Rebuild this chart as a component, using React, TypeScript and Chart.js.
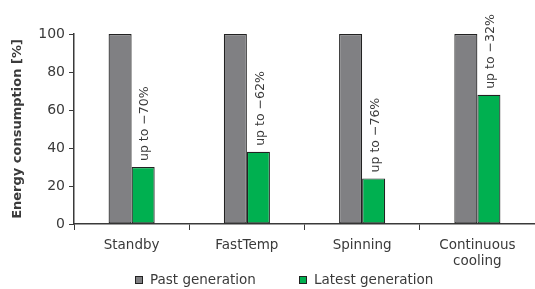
import React, { useEffect, useRef } from "react";
import { Chart, registerables } from "chart.js";

Chart.register(...registerables);

const categories: (string | string[])[] = ["Standby", "FastTemp", "Spinning", ["Continuous", "cooling"]];
const pastGeneration = [100, 100, 100, 100];
const latestGeneration = [30, 38, 24, 68];
const reductionLabels = ["up to \u221270%", "up to \u221262%", "up to \u221276%", "up to \u221232%"];
const seriesNames = ["Past generation", "Latest generation"];
const yTicks = [0, 20, 40, 60, 80, 100];

const FONT = "'DejaVu Sans', sans-serif";
const TEXT = "#3a3a3a";
const GRAY = "#808083";
const GREEN = "#00b050";
const BORDER = "#222222";

const annotationPlugin = {
  id: "reductionLabels",
  afterDatasetsDraw(chart: any) {
    const meta = chart.getDatasetMeta(1);
    const ctx = chart.ctx;
    ctx.save();
    ctx.font = `12.5px ${FONT}`;
    ctx.fillStyle = TEXT;
    ctx.textAlign = "left";
    ctx.textBaseline = "middle";
    meta.data.forEach((bar: any, i: number) => {
      ctx.save();
      ctx.translate(bar.x + 2, bar.y - 6);
      ctx.rotate(-Math.PI / 2);
      ctx.fillText(reductionLabels[i], 0, 0);
      ctx.restore();
    });
    ctx.restore();
  },
};

const legendPlugin = {
  id: "customLegend",
  afterDraw(chart: any) {
    const ctx = chart.ctx;
    const y = 280;
    const colors = [GRAY, GREEN];
    const starts = [135, 299];
    ctx.save();
    ctx.font = `13.5px ${FONT}`;
    ctx.textBaseline = "middle";
    ctx.textAlign = "left";
    seriesNames.forEach((name, i) => {
      const x = starts[i];
      ctx.fillStyle = colors[i];
      ctx.fillRect(x, y - 4, 8, 8);
      ctx.strokeStyle = BORDER;
      ctx.lineWidth = 1;
      ctx.strokeRect(x + 0.5, y - 3.5, 7, 7);
      ctx.fillStyle = TEXT;
      ctx.fillText(name, x + 15, y);
    });
    ctx.restore();
  },
};

export default function App() {
  const ref = useRef<HTMLCanvasElement>(null);
  useEffect(() => {
    if (!ref.current) return;
    const chart = new Chart(ref.current, {
      type: "bar",
      data: {
        labels: categories,
        datasets: [
          {
            label: seriesNames[0],
            data: pastGeneration,
            backgroundColor: GRAY,
            borderColor: BORDER,
            borderWidth: 1.2,
            borderSkipped: false,
            categoryPercentage: 0.4,
            barPercentage: 1,
          },
          {
            label: seriesNames[1],
            data: latestGeneration,
            backgroundColor: GREEN,
            borderColor: BORDER,
            borderWidth: 1.2,
            borderSkipped: false,
            categoryPercentage: 0.4,
            barPercentage: 1,
          },
        ],
      },
      options: {
        animation: false,
        responsive: false,
        maintainAspectRatio: false,
        layout: { padding: { top: 34, right: 0, bottom: 15, left: 0 } },
        plugins: {
          legend: { display: false },
          tooltip: { enabled: false },
        },
        scales: {
          x: {
            grid: {
              display: true,
              drawOnChartArea: false,
              drawTicks: true,
              tickLength: 6,
              color: TEXT,
              offset: true,
            },
            border: { display: true, color: TEXT, width: 1.5 },
            ticks: {
              color: TEXT,
              font: { family: FONT, size: 13.5 },
              padding: 7,
              maxRotation: 0,
              autoSkip: false,
            },
            afterFit: (s: any) => {
              s.height = 50;
            },
          },
          y: {
            min: 0,
            max: 100,
            afterBuildTicks: (s: any) => {
              s.ticks = yTicks.map((v) => ({ value: v }));
            },
            grid: {
              display: true,
              drawOnChartArea: false,
              drawTicks: true,
              tickLength: 5,
              color: TEXT,
            },
            border: { display: true, color: TEXT, width: 1.5 },
            ticks: {
              color: TEXT,
              font: { family: FONT, size: 14 },
              padding: 4,
            },
            title: {
              display: true,
              text: "Energy consumption [%]",
              color: TEXT,
              font: { family: FONT, size: 13, weight: "bold" },
              padding: { top: 10, bottom: 0 },
            },
            afterFit: (s: any) => {
              s.width = 74;
            },
          },
        },
      },
      plugins: [annotationPlugin, legendPlugin],
    });
    return () => chart.destroy();
  }, []);
  return (
    <div style={{ position: "absolute", left: 0, top: 0, width: 535, height: 289, background: "#fff" }}>
      <canvas ref={ref} width={535} height={289} style={{ width: 535, height: 289, display: "block" }} />
    </div>
  );
}
